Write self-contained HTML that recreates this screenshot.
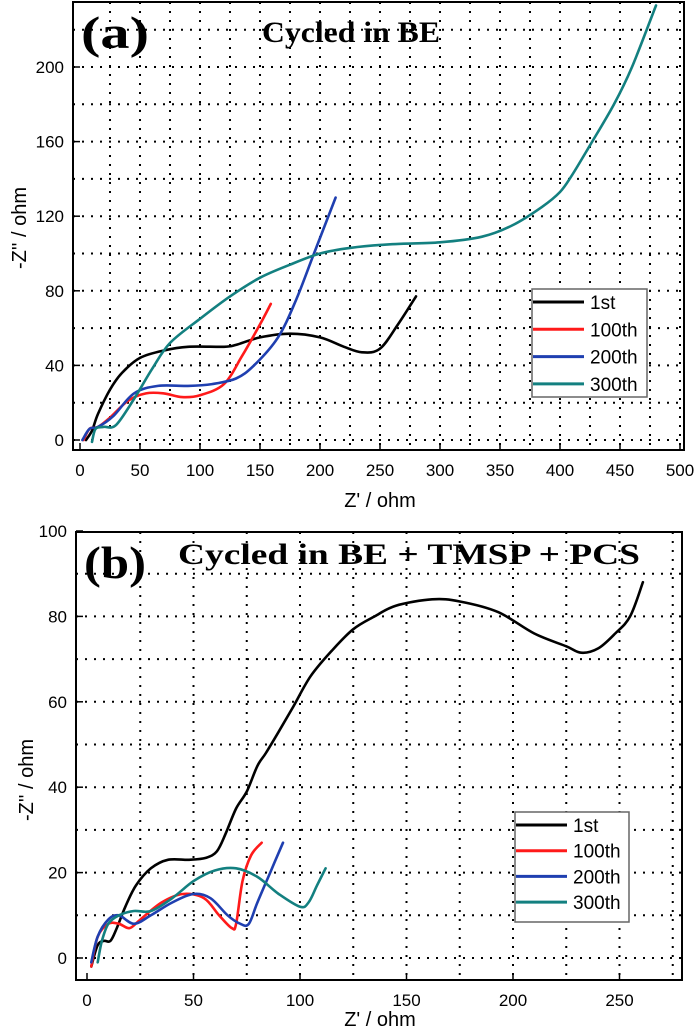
<!DOCTYPE html>
<html><head><meta charset="utf-8">
<style>
html,body{margin:0;padding:0;background:#fff;}
svg{display:block;font-family:"Liberation Sans",sans-serif;}
.ttl{font-family:"Liberation Serif",serif;font-weight:bold;}
</style></head>
<body>
<svg id="chart" width="700" height="1030" viewBox="0 0 700 1030"></svg>
<script>
// ---------- Panel (a) data ----------
const aXTicks=[0,50,100,150,200,250,300,350,400,450,500];
const aYTicks=[0,40,80,120,160,200];
const a1stX=[5,10,15,25,35,50,70,90,120,130,150,175,200,220,235,250,265,280];
const a1stY=[0,5,14,27,36,44,48,50,50,51,55,57,55,50,47,49,62,77];
const a100X=[3,8,15,25,40,55,70,85,100,120,135,150,159];
const a100Y=[0,6,7,12,21,25,25,23,24,30,45,62,73];
const a200X=[2,8,15,28,45,65,90,110,130,145,165,180,195,213];
const a200Y=[0,6,7,13,25,29,29,30,33,40,55,75,100,130];
const a300X=[10,13,20,30,45,60,75,100,125,150,175,200,225,260,300,335,360,385,400,410,425,445,460,480];
const a300Y=[-1,6,7,8,22,38,52,65,77,87,94,100,103,105,106,109,115,125,133,142,158,180,200,233];
// ---------- Panel (b) data ----------
const bXTicks=[0,50,100,150,200,250];
const bYTicks=[0,20,40,60,80,100];
const b1stX=[2,5,8,11,14,18,23,30,38,48,56,61,65,70,75,80,84,90,97,105,115,125,135,145,162,175,193,210,225,232,240,248,255,261];
const b1stY=[-2,3,4,4,7,12,17,21,23,23,23.5,25,29,35,39,45,48,53,59,66,72,77,80,82.5,84,83.5,81,76,73,71.5,72.5,76,80,88];
const b100X=[2,5,10,15,20,25,35,45,55,62,68,70,73,77,82];
const b100Y=[-2,5,8,8,7,9,13,15,14,10,7,8,18,24,27];
const b200X=[2,5,10,15,22,30,40,50,58,66,72,76,80,86,92];
const b200Y=[-1,5,9,10,8,10,13,15,14,10,8,8,13,20,27];
const b300X=[5,7,10,15,22,30,40,50,60,70,80,90,100,104,108,112];
const b300Y=[-1,4,8,10,11,11,14,18,20.5,21,19,15,12,13,17,21];
const legendLabels=['1st','100th','200th','300th'];
const colors=['#000000','#ff1a1a','#1f3fb0','#138080'];

const NS='http://www.w3.org/2000/svg';
const svg=document.getElementById('chart');
function mk(tag,attrs,parent){const e=document.createElementNS(NS,tag);for(const k in attrs)e.setAttribute(k,attrs[k]);(parent||svg).appendChild(e);return e;}
function pathFrom(xs,ys,sx,sy){
  const p=xs.map((x,i)=>[sx(x),sy(ys[i])]);
  let d='M'+p[0][0].toFixed(1)+','+p[0][1].toFixed(1);
  for(let i=0;i<p.length-1;i++){
    const p0=p[Math.max(0,i-1)],p1=p[i],p2=p[i+1],p3=p[Math.min(p.length-1,i+2)];
    const c1=[p1[0]+(p2[0]-p0[0])/6,p1[1]+(p2[1]-p0[1])/6];
    const c2=[p2[0]-(p3[0]-p1[0])/6,p2[1]-(p3[1]-p1[1])/6];
    d+='C'+c1.map(v=>v.toFixed(1)).join(',')+' '+c2.map(v=>v.toFixed(1)).join(',')+' '+p2[0].toFixed(1)+','+p2[1].toFixed(1);
  }
  return d;
}
function panel(cfg){
  const g=mk('g',{});
  
  
  const sx=v=>cfg.x0+(v-cfg.xmin)*cfg.kx;
  const sy=v=>cfg.y0-(v-cfg.ymin)*cfg.ky;
  for(let v=cfg.xmin+cfg.xg;v<cfg.xmax;v+=cfg.xg){
    const l=mk('line',{x1:sx(v),x2:sx(v),y1:cfg.top,y2:cfg.bot,stroke:'#000','stroke-width':2,'stroke-dasharray':'2 7'},g);
    
  }
  for(let v=cfg.ymin;v<cfg.ymax;v+=cfg.yg){
    if(sy(v)<cfg.top+3)continue;
    const l=mk('line',{x1:cfg.left,x2:cfg.right,y1:sy(v),y2:sy(v),stroke:'#000','stroke-width':2,'stroke-dasharray':'2 7'},g);
    
  }
  cfg.xt.forEach(v=>{
    mk('line',{x1:sx(v),x2:sx(v),y1:cfg.bot,y2:cfg.bot-7,stroke:'#000','stroke-width':1.5},g);
    const t=mk('text',{x:sx(v),y:cfg.bot+26,'text-anchor':'middle','font-size':17},g);t.textContent=v;
    
  });
  cfg.yt.forEach(v=>{
    mk('line',{x1:cfg.left,x2:cfg.left+7,y1:sy(v),y2:sy(v),stroke:'#000','stroke-width':1.5},g);
    const t=mk('text',{x:cfg.left-9,y:sy(v)+6,'text-anchor':'end','font-size':17},g);t.textContent=v;
    
  });
  cfg.series.forEach((s,i)=>{
    const p=mk('path',{d:pathFrom(s[0],s[1],sx,sy),fill:'none',stroke:colors[i],'stroke-width':2.6,'stroke-linejoin':'round','stroke-linecap':'round'},g);
    
  });
  const f=mk('rect',{x:cfg.left,y:cfg.top,width:cfg.right-cfg.left,height:cfg.bot-cfg.top,fill:'none',stroke:'#000','stroke-width':2},g);
  
  const pl=mk('text',{x:cfg.left+8,y:cfg.top+46,'font-size':46,class:'ttl',textLength:cfg.plLen,lengthAdjust:'spacingAndGlyphs'},g);pl.textContent=cfg.panel;
  
  const tt=mk('text',{x:cfg.titleX,y:cfg.top+cfg.titleDy,'font-size':cfg.titleSize,class:'ttl',textLength:cfg.titleLen,lengthAdjust:'spacingAndGlyphs'},g);tt.textContent=cfg.title;
  
  const xl=mk('text',{x:cfg.xlx,y:cfg.xly,'text-anchor':'middle','font-size':20},g);xl.textContent="Z' / ohm";
  
  const yl=mk('text',{x:0,y:0,'text-anchor':'middle','font-size':20,transform:'translate('+cfg.ylx+','+cfg.yly+') rotate(-90)'},g);yl.textContent="-Z'' / ohm";
  
  const L=cfg.leg;
  const lg=mk('g',{},g);
  
  mk('rect',{x:L.x,y:L.y,width:L.w,height:L.h,fill:'#fff',stroke:'#666','stroke-width':1.5},lg);
  legendLabels.forEach((lab,i)=>{
    const yy=L.y+13+i*L.dy;
    const e=mk('g',{},lg);
    
    mk('line',{x1:L.x+1,x2:L.x+52,y1:yy,y2:yy,stroke:colors[i],'stroke-width':3},e);
    const t=mk('text',{x:L.x+58,y:yy+7,'font-size':19},e);t.textContent=lab;
  });
}
panel({name:'panel-a',panel:'(a)',title:'Cycled in BE',titleX:262,titleDy:40,titleSize:30,titleLen:178,plLen:68,
  left:73,right:684,top:2,bot:450,x0:80,y0:440,xmin:0,ymin:0,xmax:510,ymax:240,kx:1.2,ky:1.865,xg:25,yg:20,
  xt:aXTicks,yt:aYTicks,series:[[a1stX,a1stY],[a100X,a100Y],[a200X,a200Y],[a300X,a300Y]],
  xlx:380,xly:507,ylx:26,yly:228,leg:{x:532,y:289,w:115,h:108,dy:27.3}});
panel({name:'panel-b',panel:'(b)',title:'Cycled in BE + TMSP + PCS',titleX:178,titleDy:32,titleSize:30,titleLen:462,plLen:62,
  left:76,right:682,top:532,bot:980,x0:87,y0:958,xmin:0,ymin:0,xmax:280,ymax:100,kx:2.13,ky:4.27,xg:25,yg:10,
  xt:bXTicks,yt:bYTicks,series:[[b1stX,b1stY],[b100X,b100Y],[b200X,b200Y],[b300X,b300Y]],
  xlx:380,xly:1026,ylx:33,yly:780,leg:{x:515,y:812,w:114,h:110,dy:25.7}});
</script>
</body></html>
